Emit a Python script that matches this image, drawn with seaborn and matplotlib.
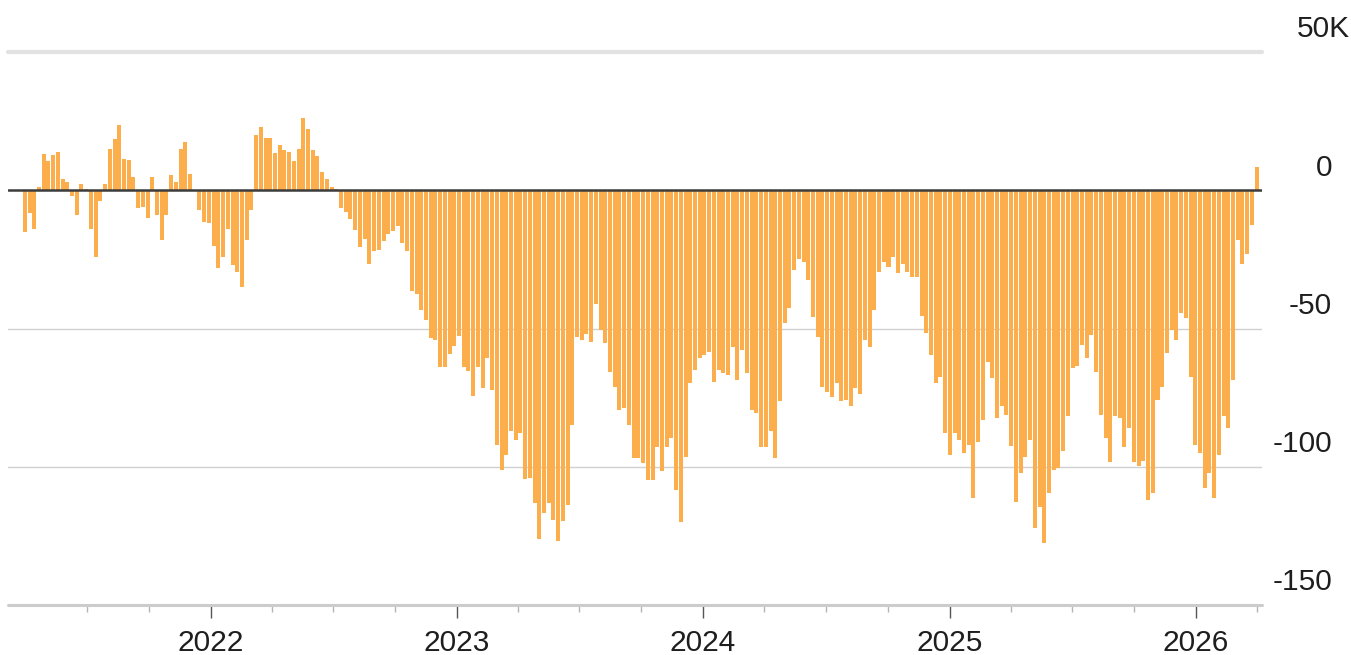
import numpy as np
import pandas as pd
import matplotlib
matplotlib.use("Agg")
import matplotlib.pyplot as plt
import matplotlib.dates as mdates
import seaborn as sns

# ---- data (thousands), weekly ----
start_date = "2021-03-31"
values = [
    -15, -8.4, -13.9, 1, 13, 10.5, 12.6, 14, 4, 3,
    -2, -9, 2.4, 0.5, -14, -24, -4, 2.4, 15, 18.7,
    23.7, 11.4, 10.8, 4.8, -6.6, -6, -10, 4.8, -9, -18,
    -9, 5.4, 3, 15, 17.5, 5.8, 0, -7, -11.4, -12,
    -20, -28, -24, -14, -27, -29.5, -35, -18, -7, 19.9,
    22.9, 19, 19, 13.5, 16.3, 14.5, 13.9, 10.5, 15, 26,
    22, 14.5, 12.3, 6.6, 3.9, 1, 0.3, -6.6, -7.8, -10.3,
    -14.5, -20.5, -17.8, -26.5, -22, -21.5, -18.5, -16, -14.7, -12.8,
    -19.2, -22, -36.4, -37.5, -43.3, -47, -53.5, -54, -63.8, -63.8,
    -59.2, -56.5, -52.8, -64, -65.5, -74.5, -63.9, -71.5, -60.6, -72.1,
    -92, -101, -95.6, -87.2, -90.2, -87.8, -104.5, -104, -113, -126,
    -116.8, -113, -119.2, -127, -119.7, -113.7, -84.8, -53, -54, -52,
    -54.8, -41, -50.5, -55.4, -65.6, -71, -79.4, -78.8, -84.8, -96.9,
    -96.9, -98.7, -104.7, -104.7, -92.7, -101.7, -92.7, -89.7, -108.3, -120,
    -96.3, -69.8, -65, -60.8, -59.6, -58.4, -69.2, -65, -66.2, -66.8,
    -56.6, -68.6, -57.8, -66.2, -79.4, -80.6, -92.7, -92.7, -87.2, -96.9,
    -76.4, -48.1, -42.7, -28.9, -25, -25.9, -32.5, -45.7, -53, -71,
    -73, -74.6, -69.8, -76.4, -75.8, -78.2, -71.6, -73.6, -54.2, -56.6,
    -43.3, -29.5, -25.9, -27.7, -24, -30, -26.5, -29.5, -31.3, -31.3,
    -45.4, -51.7, -59.6, -69.8, -67.4, -87.8, -95.7, -87.8, -90.3, -95,
    -92, -111.3, -90.9, -83, -62, -68, -82.4, -78.1, -81.2, -92.6,
    -112.6, -102.3, -96.3, -90.2, -122.2, -114.4, -127.7, -109.5, -101.1, -100.5,
    -94.4, -81.8, -64.3, -63.4, -56, -60.8, -52.3, -65.6, -81.2, -89.7,
    -98.4, -81.8, -82.4, -92.7, -86, -98.4, -99.6, -98, -112, -109.5,
    -75.8, -71, -59, -50.5, -54, -44.5, -46.3, -67.4, -92, -95,
    -107.7, -102.3, -111.3, -95.7, -81.8, -86, -68.6, -18, -26.5, -22.9,
    -12.6, 8.4,
]
dates = pd.date_range(start_date, periods=len(values), freq="7D")

year_labels = ["2022", "2023", "2024", "2025", "2026"]
ytick_values = [50, 0, -50, -100, -150]
ytick_labels = ["50K", "0", "-50", "-100", "-150"]

bar_color = "#FBAE4B"

sns.set_theme(style="white")
plt.rcParams["font.family"] = ["Liberation Sans", "DejaVu Sans"]

W, H = 1351, 655
fig = plt.figure(figsize=(W / 100, H / 100), dpi=100)
ax = fig.add_axes([8 / W, (H - 605) / H, (1262 - 8) / W, (605 - 52) / H])

xnum = mdates.date2num(dates)
df = pd.DataFrame({"x": xnum, "v": values})
sns.barplot(data=df, x="x", y="v", native_scale=True, orient="x",
            color=bar_color, saturation=1, width=0.85, linewidth=0,
            errorbar=None, ax=ax, zorder=2)

ax.set_xlim(mdates.date2num(pd.Timestamp("2021-03-06")),
            mdates.date2num(pd.Timestamp("2026-04-09")))
ax.set_ylim(-150, 50)

for s in ax.spines.values():
    s.set_visible(False)
ax.set_xlabel("")
ax.set_ylabel("")

# horizontal reference lines
ax.axhline(50, color="#e2e2e2", lw=3, zorder=0, clip_on=False)
ax.axhline(-50, color="#d0d0d0", lw=1, zorder=0)
ax.axhline(-100, color="#d0d0d0", lw=1, zorder=0)
ax.axhline(-150, color="#cccccc", lw=2.2, zorder=1, clip_on=False)
ax.axhline(0, color="#3c3c3c", lw=1.8, zorder=3)

# y labels on the right, above their lines
ax.set_yticks(ytick_values)
ax.set_yticklabels([])
ax.tick_params(axis="y", length=0)
axw = 1262 - 8
for v, lab in zip(ytick_values, ytick_labels):
    right_px = 1350 if lab.endswith("K") else 1332
    ax.annotate(lab, xy=((right_px - 8) / axw, v),
                xycoords=("axes fraction", "data"),
                xytext=(0, 10.5), textcoords="offset points",
                ha="right", va="baseline", fontsize=21.5, color="#1e1e1e",
                annotation_clip=False)

# x ticks: years major, quarters minor
major = [mdates.date2num(pd.Timestamp(f"{y}-01-01")) for y in year_labels]
ax.set_xticks(major)
ax.set_xticklabels(year_labels)
minor = []
for y in range(2021, 2027):
    for m in (4, 7, 10):
        t = pd.Timestamp(f"{y}-{m:02d}-01")
        if pd.Timestamp("2021-06-01") < t < pd.Timestamp("2026-04-09"):
            minor.append(mdates.date2num(t))
ax.set_xticks(minor, minor=True)
ax.tick_params(axis="x", which="major", direction="out", length=9, width=1,
               color="#555555", pad=8, labelsize=21.5, labelcolor="#1e1e1e",
               bottom=True)
ax.tick_params(axis="x", which="minor", direction="out", length=5, width=1,
               color="#b5b5b5", bottom=True)

fig.savefig("out.png", dpi=100, facecolor="white")
